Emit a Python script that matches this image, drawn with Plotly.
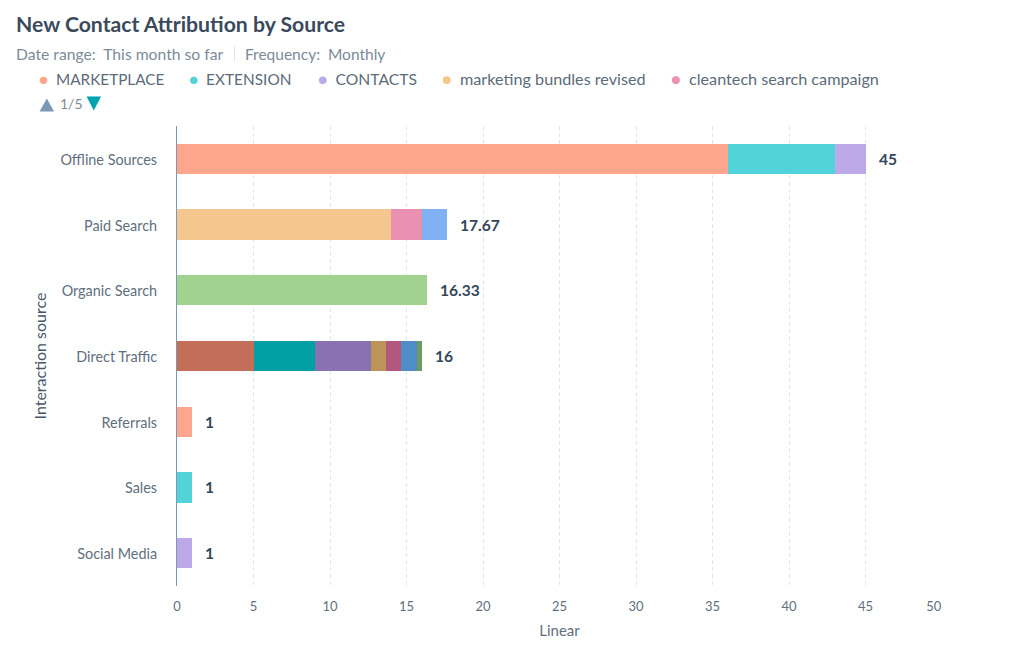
import plotly.graph_objects as go

categories = ["Offline Sources", "Paid Search", "Organic Search", "Direct Traffic", "Referrals", "Sales", "Social Media"]
totals = [45, 17.67, 16.33, 16, 1, 1, 1]
x_ticks = [0, 5, 10, 15, 20, 25, 30, 35, 40, 45, 50]
# last label sits left of its gridline in the original
x_tick_labels = ["0", "5", "10", "15", "20", "25", "30", "35", "40", "45", "50\u00a0\u00a0\u00a0\u00a0\u00a0"]

# one list per stack, bottom segment first
offline_values = [36, 7, 2]
offline_colors = ["#FEA58E", "#51D3D9", "#BEA9E8"]
paid_values = [14, 2, 1.67]
paid_colors = ["#F5C78E", "#EA90B1", "#81B1F5"]
organic_values = [16.33]
organic_colors = ["#A2D28F"]
direct_values = [5, 4, 3.67, 1, 1, 1, 0.33]
direct_colors = ["#C26E58", "#00A0A6", "#8A72B2", "#BC9458", "#B4577F", "#4F8DC6", "#6B9B5E"]
referrals_values = [1]
referrals_colors = ["#FEA58E"]
sales_values = [1]
sales_colors = ["#51D3D9"]
social_values = [1]
social_colors = ["#BEA9E8"]

stack_values = [offline_values, paid_values, organic_values, direct_values, referrals_values, sales_values, social_values]
stack_colors = [offline_colors, paid_colors, organic_colors, direct_colors, referrals_colors, sales_colors, social_colors]

legend_names = ["MARKETPLACE", "EXTENSION", "CONTACTS", "marketing bundles revised", "cleantech search campaign"]
legend_colors = ["#FEA58E", "#51D3D9", "#BEA9E8", "#F5C78E", "#EA90B1"]
legend_x = [36, 187, 316, 440, 669]
legend_sizes = [15.3, 15.4, 15.7, 16.2, 16.2]

W = 1024
H = 671
LEFT = 176.5
RIGHT = 942
TOP = 125.5
BOTTOM = 586.5


def px(x):
    return (x - LEFT) / (RIGHT - LEFT)


def py(y):
    return (BOTTOM - y) / (BOTTOM - TOP)


def label(x, y, text, size, color):
    fig.add_annotation(
        xref="paper", yref="paper", x=px(x), y=py(y), xanchor="left", yanchor="middle",
        text=text, showarrow=False, font=dict(size=size, color=color),
    )


def triangle(x0, x1, y_base, y_tip, color):
    path = "M %f,%f L %f,%f L %f,%f Z" % (px(x0), py(y_base), px(x1), py(y_base), px((x0 + x1) / 2), py(y_tip))
    fig.add_shape(type="path", xref="paper", yref="paper", path=path, fillcolor=color, line=dict(width=0))


fig = go.Figure()

# stacked bars, one trace per segment
for cat, values, colors in zip(categories, stack_values, stack_colors):
    for v, c in zip(values, colors):
        fig.add_trace(go.Bar(x=[v], y=[cat], orientation="h", marker=dict(color=c, line=dict(width=0)), showlegend=False))

fig.update_layout(
    width=W,
    height=H,
    barmode="stack",
    bargap=0.54,
    paper_bgcolor="white",
    plot_bgcolor="white",
    margin=dict(l=LEFT, r=W - RIGHT, t=TOP, b=H - BOTTOM, autoexpand=False),
    font=dict(family="Lato", color="#516F90"),
    showlegend=False,
)

fig.update_xaxes(
    range=[0, 50],
    tickvals=x_ticks,
    ticktext=x_tick_labels,
    showgrid=True,
    gridcolor="#E3E6EB",
    griddash="4px,3px",
    gridwidth=1,
    zeroline=False,
    showline=False,
    ticks="outside",
    ticklen=8,
    tickcolor="white",
    tickfont=dict(size=13, color="#5F6F80"),
    title=dict(text="Linear", font=dict(size=15, color="#5F6F80"), standoff=12),
)
fig.update_yaxes(
    autorange="reversed",
    categoryorder="array",
    categoryarray=categories,
    showline=True,
    linecolor="#7C98B6",
    linewidth=1,
    showgrid=False,
    zeroline=False,
    ticks="outside",
    ticklen=16,
    ticklabelshift=-1,
    tickfont=dict(size=14.4, color="#5F6F80"),
    tickcolor="white",
    title=dict(text="Interaction source", font=dict(size=16, color="#44566A"), standoff=9),
)

# totals at the end of each bar
for cat, t in zip(categories, totals):
    fig.add_annotation(
        x=t, y=cat, text="<b>%g</b>" % t, showarrow=False, xanchor="left", xshift=11,
        font=dict(size=15.6, color="#33475B"),
    )

# title and subtitle
label(13, 23.5, "<b>New Contact Attribution by Source</b>", 21.2, "#3A4A5C")
label(13, 53, "Date range:  This month so far", 15.7, "#7C8B9A")
label(243, 53, "Frequency:  Monthly", 15.5, "#7C8B9A")
fig.add_shape(type="line", xref="paper", yref="paper", x0=px(234), x1=px(234), y0=py(45), y1=py(61),
              line=dict(color="#DFE3EB", width=1))

# legend row
for name, c, x, s in zip(legend_names, legend_colors, legend_x, legend_sizes):
    label(x, 78, "<span style='color:%s'>●</span>  %s" % (c, name), s, "#5C6B7A")

# legend pager
triangle(39, 53.5, 111, 98, "#7C98B6")
label(57, 103, "1/5", 14, "#7C8B9A")
triangle(86, 100.5, 96, 110, "#00A4B0")

fig.write_html("out.html", config={"displayModeBar": False}, post_script="document.body.style.margin='0';")
